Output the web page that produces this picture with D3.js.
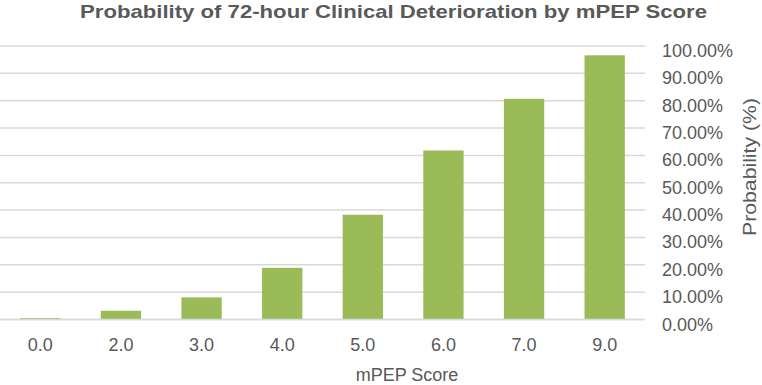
<!DOCTYPE html>
<html>
<head>
<meta charset="utf-8">
<script src="https://cdn.jsdelivr.net/npm/d3@7"></script>
<style>
  html, body { margin: 0; padding: 0; background: #fff; }
  svg { display: block; }
  text { font-family: "Liberation Sans", Arial, sans-serif; fill: #595959; }
</style>
</head>
<body>
<svg id="chart" width="762" height="385"></svg>
<script>
const categories = ["0.0", "2.0", "3.0", "4.0", "5.0", "6.0", "7.0", "9.0"];
const values = [0.005, 0.032, 0.081, 0.189, 0.383, 0.618, 0.807, 0.966];
const yTicks = [0, 0.1, 0.2, 0.3, 0.4, 0.5, 0.6, 0.7, 0.8, 0.9, 1.0];
const titleText = "Probability of 72-hour Clinical Deterioration by mPEP Score";
const xTitle = "mPEP Score";
const yTitle = "Probability (%)";

const svg = d3.select("#chart");
const x = d3.scaleBand().domain(categories).range([0, 645]).paddingInner(0.5).paddingOuter(0.25);
const y = d3.scaleLinear().domain([0, 1]).range([319.5, 46]);

// gridlines
svg.append("g").selectAll("line").data(yTicks).join("line")
  .attr("x1", 0).attr("x2", 645)
  .attr("y1", d => y(d)).attr("y2", d => y(d))
  .attr("stroke", "#d9d9d9").attr("stroke-width", 1.5);

// bars
svg.append("g").selectAll("rect").data(values).join("rect")
  .attr("x", (d, i) => x(categories[i]))
  .attr("width", x.bandwidth())
  .attr("y", d => y(d))
  .attr("height", d => y(0) - y(d))
  .attr("fill", "#9bbb59");

// baseline
svg.append("line").attr("x1", 0).attr("x2", 645).attr("y1", y(0)).attr("y2", y(0))
  .attr("stroke", "#d9d9d9").attr("stroke-width", 1.5);

// y tick labels (right side, left aligned)
const fmt = d3.format(".2%");
svg.append("g").selectAll("text").data(yTicks).join("text")
  .attr("x", 662).attr("y", d => y(d) + 11)
  .attr("font-size", 18)
  .text(d => fmt(d));

// x tick labels
svg.append("g").selectAll("text").data(categories).join("text")
  .attr("x", d => x(d) + x.bandwidth() / 2)
  .attr("y", 350.5)
  .attr("text-anchor", "middle")
  .attr("font-size", 18)
  .text(d => d);

// title
svg.append("text").attr("x", 393.5).attr("y", 18)
  .attr("text-anchor", "middle").attr("font-size", 19).attr("font-weight", "bold")
  .attr("textLength", 627).attr("lengthAdjust", "spacingAndGlyphs")
  .text(titleText);

// x axis title
svg.append("text").attr("x", 407).attr("y", 381)
  .attr("text-anchor", "middle").attr("font-size", 18)
  .text(xTitle);

// y axis title
svg.append("text")
  .attr("transform", "translate(756,167) rotate(-90)")
  .attr("text-anchor", "middle").attr("font-size", 18)
  .attr("textLength", 138).attr("lengthAdjust", "spacingAndGlyphs")
  .text(yTitle);
</script>
</body>
</html>
